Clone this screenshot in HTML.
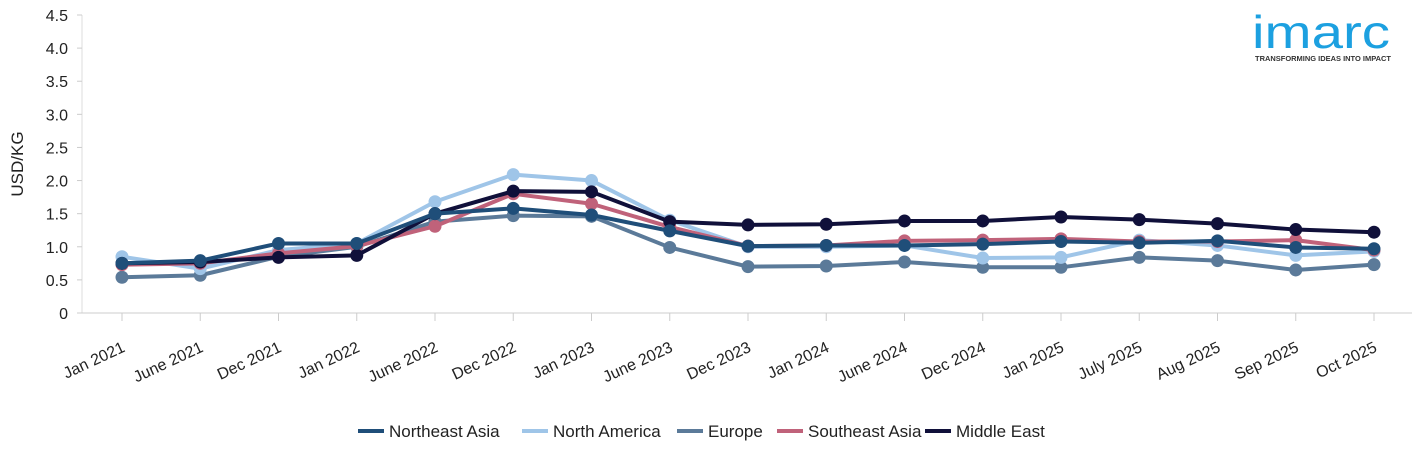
<!DOCTYPE html>
<html><head><meta charset="utf-8"><style>
body{margin:0;background:#fff;font-family:"Liberation Sans",Arial,sans-serif;}
</style></head><body>
<svg width="1425" height="455" xmlns="http://www.w3.org/2000/svg" font-family="Liberation Sans, Arial, sans-serif">
<g id="grid"></g><g id="lines"></g><g id="xl"></g>
<text transform="translate(23,164) rotate(-90)" text-anchor="middle" font-size="17" fill="#222">USD/KG</text>
<g>
<text x="1252" y="48" font-size="46" fill="#1ca0e0" textLength="138" lengthAdjust="spacingAndGlyphs">imarc</text>
<text x="1255" y="61" font-size="7" font-weight="bold" fill="#333" textLength="136" lengthAdjust="spacingAndGlyphs">TRANSFORMING IDEAS INTO IMPACT</text>
</g>
<g id="legend"></g>
</svg>
<script>
const categories=["Jan 2021","June 2021","Dec 2021","Jan 2022","June 2022","Dec 2022","Jan 2023","June 2023","Dec 2023","Jan 2024","June 2024","Dec 2024","Jan 2025","July 2025","Aug 2025","Sep 2025","Oct 2025"];
const yTicks=[0,0.5,1.0,1.5,2.0,2.5,3.0,3.5,4.0,4.5];
const seriesNames=["Northeast Asia","North America","Europe","Southeast Asia","Middle East"];
const seriesColors=["#1f4e79","#9fc5e8","#5b7a99","#c0627a","#10103a"];
const northeastAsia=[0.75,0.79,1.05,1.05,1.50,1.58,1.48,1.24,1.01,1.02,1.02,1.04,1.08,1.06,1.09,0.99,0.97];
const northAmerica=[0.85,0.67,0.95,1.05,1.68,2.09,2.00,1.40,1.00,1.00,1.02,0.83,0.84,1.10,1.02,0.87,0.93];
const europe=[0.54,0.57,0.85,1.00,1.38,1.47,1.46,0.99,0.70,0.71,0.77,0.69,0.69,0.84,0.79,0.65,0.73];
const southeastAsia=[0.73,0.75,0.90,1.01,1.31,1.80,1.65,1.30,1.01,1.02,1.09,1.10,1.12,1.08,1.08,1.10,0.95];
const middleEast=[0.75,0.77,0.84,0.87,1.50,1.84,1.83,1.38,1.33,1.34,1.39,1.39,1.45,1.41,1.35,1.26,1.22];
const seriesData=[northeastAsia,northAmerica,europe,southeastAsia,middleEast];
const NS="http://www.w3.org/2000/svg";
const X0=122,X1=1374,Y0=313,Y1=15,L=82,R=1412;
const x=i=>X0+(X1-X0)*i/(categories.length-1);
const y=v=>Y0-(Y0-Y1)*v/4.5;
function mk(t,a,p){const e=document.createElementNS(NS,t);for(const k in a)e.setAttribute(k,a[k]);p.appendChild(e);return e;}
const g=document.getElementById('grid');
let ax=mk('line',{x1:L,x2:L,y1:Y1,y2:Y0,stroke:'#ddd'},g);


let bx=mk('line',{x1:L,x2:R,y1:Y0,y2:Y0,stroke:'#ccc'},g);


yTicks.forEach(v=>{
 const t=mk('text',{x:68,y:y(v)+6,'text-anchor':'end','font-size':16,fill:'#222'},g);t.textContent=v===0?'0':v.toFixed(1);
 
 
 mk('line',{x1:L-5,x2:L,y1:y(v),y2:y(v),stroke:'#ccc'},g);
});
const xl=document.getElementById('xl');
categories.forEach((c,i)=>{
 mk('line',{x1:x(i),x2:x(i),y1:Y0,y2:Y0+8,stroke:'#ccc'},xl);
 const t=mk('text',{transform:`translate(${x(i)+4},${Y0+38}) rotate(-25)`,'text-anchor':'end','font-size':16,fill:'#222'},xl);t.textContent=c;
 
 
});
const lg=document.getElementById('lines');
const order=[2,1,3,4,0];
order.forEach(s=>{
 const grp=mk('g',{},lg);
 
 
 mk('polyline',{points:seriesData[s].map((v,i)=>x(i)+','+y(v)).join(' '),fill:'none',stroke:seriesColors[s],'stroke-width':4,'stroke-linejoin':'round'},grp);
 seriesData[s].forEach((v,i)=>{const c=mk('circle',{cx:x(i),cy:y(v),r:6.5,fill:seriesColors[s]},grp);
  
  });
});
const leg=document.getElementById('legend');
const lx=[358,522,677,777,925];
seriesNames.forEach((n,s)=>{
 const e=mk('g',{},leg);
 
 
 mk('line',{x1:lx[s],x2:lx[s]+26,y1:431,y2:431,stroke:seriesColors[s],'stroke-width':4},e);
 const t=mk('text',{x:lx[s]+31,y:437,'font-size':17,fill:'#222'},e);t.textContent=n;
});
</script>
</body></html>
